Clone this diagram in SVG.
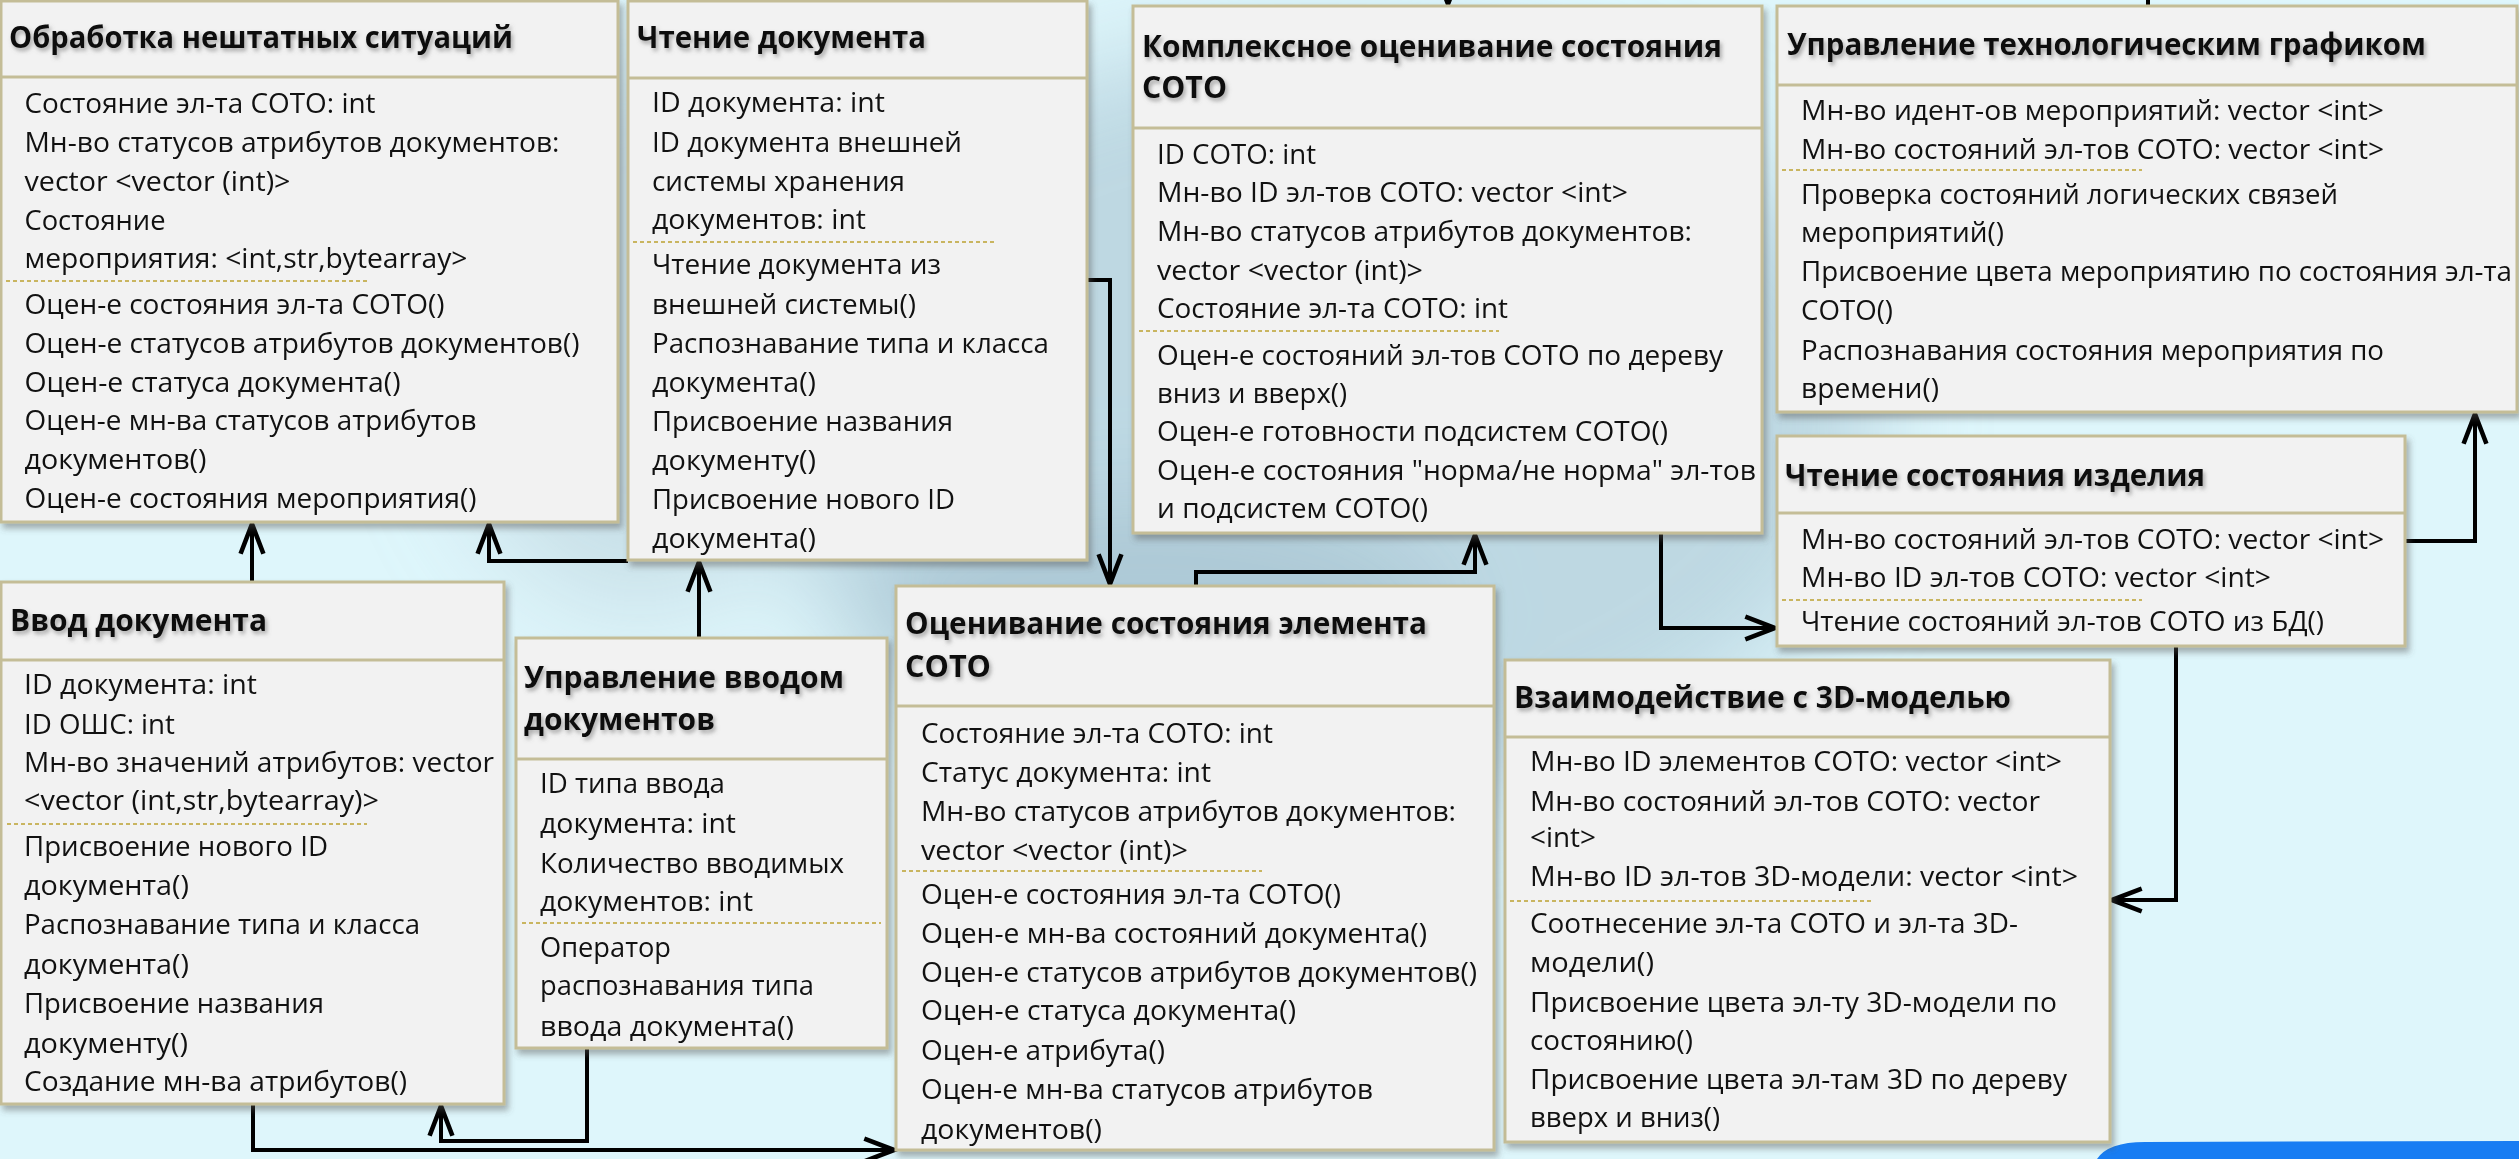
<svg xmlns="http://www.w3.org/2000/svg" width="2519" height="1159" viewBox="0 0 2519 1159">
<defs>
<style>
.box{fill:#f2f2f2;stroke:#c4bd97;stroke-width:3;filter:url(#shadow)}
.sep{stroke:#c4bd97;stroke-width:3}
.dot{stroke:#c9b560;stroke-width:2;stroke-dasharray:4 3}
.t{font-family:"Open Sans","Noto Sans","DejaVu Sans",sans-serif;font-weight:bold;font-size:31px;fill:#111;filter:url(#tshadow)}
.b{font-family:"Open Sans","Noto Sans","DejaVu Sans",sans-serif;font-size:27px;fill:#111}
.c{fill:none;stroke:#000;stroke-width:4;stroke-linejoin:miter}
.ca{fill:none;stroke:#000;stroke-width:4;marker-end:url(#arr)}
</style>
<filter id="shadow" x="-5%" y="-5%" width="115%" height="115%">
<feDropShadow dx="3" dy="5" stdDeviation="3" flood-color="#555" flood-opacity="0.45"/>
</filter>
<filter id="tshadow" x="-5%" y="-30%" width="115%" height="170%">
<feDropShadow dx="2" dy="3" stdDeviation="2" flood-color="#666" flood-opacity="0.55"/>
</filter>
<filter id="blur" x="-50%" y="-50%" width="200%" height="200%">
<feGaussianBlur stdDeviation="50"/>
</filter>
<marker id="arr" markerUnits="userSpaceOnUse" markerWidth="40" markerHeight="40" refX="0" refY="0" viewBox="-30 -15 35 30" orient="auto">
<path d="M-26,-10 L0,0 L-26,10" fill="none" stroke="#000" stroke-width="4"/>
</marker>
</defs>

<g id="background">
<rect x="0" y="0" width="2519" height="1159" fill="#def6fb"/>
<g filter="url(#blur)">
<ellipse cx="1320" cy="420" rx="560" ry="380" fill="#a9c4d2" opacity="0.6"/>
<ellipse cx="640" cy="330" rx="200" ry="280" fill="#b3cad6" opacity="0.5"/>
<ellipse cx="1150" cy="620" rx="300" ry="120" fill="#9fbccb" opacity="0.55"/>
</g>
<path d="M2097,1159 Q2108,1142 2145,1142 L2519,1141 L2519,1159 Z" fill="#187df3"/>
</g>

<g id="connectors">
<path class="ca" d="M252,582 L252,524"/>
<path class="ca" d="M628,561 L489,561 L489,524"/>
<path class="ca" d="M699,638 L699,562"/>
<path class="ca" d="M1087,280 L1110,280 L1110,584"/>
<path class="ca" d="M1196,586 L1196,572 L1475,572 L1475,535"/>
<path class="ca" d="M1661,533 L1661,628 L1775,628"/>
<path class="ca" d="M2405,541 L2475,541 L2475,414"/>
<path class="ca" d="M2176,646 L2176,900 L2112,900"/>
<path class="ca" d="M253,1104 L253,1150 L894,1150"/>
<path class="ca" d="M587,1048 L587,1141 L441,1141 L441,1106"/>
<path class="ca" d="M1448,-30 L1448,4"/>
<path class="c" d="M2148,0 L2148,6"/>
<path class="c" d="M309,0 L309,3"/>
<path class="c" d="M562,0 L562,3"/>
</g>

<g id="node-obrabotka">
<rect class="box" x="1" y="1" width="617" height="521"/>
<line class="sep" x1="1" y1="77" x2="618" y2="77"/>
<text class="t" x="9" y="48" textLength="504" lengthAdjust="spacingAndGlyphs">Обработка нештатных ситуаций</text>
<text class="b" x="24.5" y="113" textLength="351" lengthAdjust="spacingAndGlyphs">Состояние эл-та СОТО: int</text>
<text class="b" x="24.5" y="152" textLength="535" lengthAdjust="spacingAndGlyphs">Мн-во статусов атрибутов документов:</text>
<text class="b" x="24.5" y="191" textLength="266" lengthAdjust="spacingAndGlyphs">vector &lt;vector (int)&gt;</text>
<text class="b" x="24.5" y="230" textLength="141" lengthAdjust="spacingAndGlyphs">Состояние</text>
<text class="b" x="24.5" y="268" textLength="443" lengthAdjust="spacingAndGlyphs">мероприятия: &lt;int,str,bytearray&gt;</text>
<line class="dot" x1="6" y1="281" x2="367" y2="281"/>
<text class="b" x="24.5" y="314" textLength="420" lengthAdjust="spacingAndGlyphs">Оцен-е состояния эл-та СОТО()</text>
<text class="b" x="24.5" y="353" textLength="555" lengthAdjust="spacingAndGlyphs">Оцен-е статусов атрибутов документов()</text>
<text class="b" x="24.5" y="392" textLength="376" lengthAdjust="spacingAndGlyphs">Оцен-е статуса документа()</text>
<text class="b" x="24.5" y="430" textLength="452" lengthAdjust="spacingAndGlyphs">Оцен-е мн-ва статусов атрибутов</text>
<text class="b" x="24.5" y="469" textLength="182" lengthAdjust="spacingAndGlyphs">документов()</text>
<text class="b" x="24.5" y="508" textLength="452" lengthAdjust="spacingAndGlyphs">Оцен-е состояния мероприятия()</text>
</g>

<g id="node-chtenie-dok">
<rect class="box" x="628" y="1" width="459" height="559"/>
<line class="sep" x1="628" y1="78" x2="1087" y2="78"/>
<text class="t" x="637" y="48" textLength="289" lengthAdjust="spacingAndGlyphs">Чтение документа</text>
<text class="b" x="652" y="112" textLength="233" lengthAdjust="spacingAndGlyphs">ID документа: int</text>
<text class="b" x="652" y="152" textLength="310" lengthAdjust="spacingAndGlyphs">ID документа внешней</text>
<text class="b" x="652" y="191" textLength="253" lengthAdjust="spacingAndGlyphs">системы хранения</text>
<text class="b" x="652" y="229" textLength="214" lengthAdjust="spacingAndGlyphs">документов: int</text>
<line class="dot" x1="633" y1="242" x2="995" y2="242"/>
<text class="b" x="652" y="274" textLength="289" lengthAdjust="spacingAndGlyphs">Чтение документа из</text>
<text class="b" x="652" y="314" textLength="264" lengthAdjust="spacingAndGlyphs">внешней системы()</text>
<text class="b" x="652" y="353" textLength="397" lengthAdjust="spacingAndGlyphs">Распознавание типа и класса</text>
<text class="b" x="652" y="392" textLength="164" lengthAdjust="spacingAndGlyphs">документа()</text>
<text class="b" x="652" y="431" textLength="301" lengthAdjust="spacingAndGlyphs">Присвоение названия</text>
<text class="b" x="652" y="470" textLength="164" lengthAdjust="spacingAndGlyphs">документу()</text>
<text class="b" x="652" y="509" textLength="303" lengthAdjust="spacingAndGlyphs">Присвоение нового ID</text>
<text class="b" x="652" y="548" textLength="164" lengthAdjust="spacingAndGlyphs">документа()</text>
</g>

<g id="node-kompleksnoe">
<rect class="box" x="1133" y="6" width="629" height="527"/>
<line class="sep" x1="1133" y1="128" x2="1762" y2="128"/>
<text class="t" x="1142" y="57" textLength="580" lengthAdjust="spacingAndGlyphs">Комплексное оценивание состояния</text>
<text class="t" x="1142" y="98" textLength="85" lengthAdjust="spacingAndGlyphs">СОТО</text>
<text class="b" x="1157" y="164" textLength="159" lengthAdjust="spacingAndGlyphs">ID СОТО: int</text>
<text class="b" x="1157" y="202" textLength="471" lengthAdjust="spacingAndGlyphs">Мн-во ID эл-тов СОТО: vector &lt;int&gt;</text>
<text class="b" x="1157" y="241" textLength="535" lengthAdjust="spacingAndGlyphs">Мн-во статусов атрибутов документов:</text>
<text class="b" x="1157" y="280" textLength="266" lengthAdjust="spacingAndGlyphs">vector &lt;vector (int)&gt;</text>
<text class="b" x="1157" y="318" textLength="351" lengthAdjust="spacingAndGlyphs">Состояние эл-та СОТО: int</text>
<line class="dot" x1="1139" y1="331" x2="1499" y2="331"/>
<text class="b" x="1157" y="365" textLength="566" lengthAdjust="spacingAndGlyphs">Оцен-е состояний эл-тов СОТО по дереву</text>
<text class="b" x="1157" y="403" textLength="190" lengthAdjust="spacingAndGlyphs">вниз и вверх()</text>
<text class="b" x="1157" y="441" textLength="511" lengthAdjust="spacingAndGlyphs">Оцен-е готовности подсистем СОТО()</text>
<text class="b" x="1157" y="480" textLength="599" lengthAdjust="spacingAndGlyphs">Оцен-е состояния "норма/не норма" эл-тов</text>
<text class="b" x="1157" y="518" textLength="271" lengthAdjust="spacingAndGlyphs">и подсистем СОТО()</text>
</g>

<g id="node-upr-grafik">
<rect class="box" x="1777" y="6" width="740" height="406"/>
<line class="sep" x1="1777" y1="85" x2="2517" y2="85"/>
<text class="t" x="1787" y="55" textLength="639" lengthAdjust="spacingAndGlyphs">Управление технологическим графиком</text>
<text class="b" x="1801" y="120" textLength="583" lengthAdjust="spacingAndGlyphs">Мн-во идент-ов мероприятий: vector &lt;int&gt;</text>
<text class="b" x="1801" y="159" textLength="583" lengthAdjust="spacingAndGlyphs">Мн-во состояний эл-тов СОТО: vector &lt;int&gt;</text>
<line class="dot" x1="1782" y1="170" x2="2142" y2="170"/>
<text class="b" x="1801" y="204" textLength="537" lengthAdjust="spacingAndGlyphs">Проверка состояний логических связей</text>
<text class="b" x="1801" y="242" textLength="203" lengthAdjust="spacingAndGlyphs">мероприятий()</text>
<text class="b" x="1801" y="281" textLength="711" lengthAdjust="spacingAndGlyphs">Присвоение цвета мероприятию по состояния эл-та</text>
<text class="b" x="1801" y="320" textLength="92" lengthAdjust="spacingAndGlyphs">СОТО()</text>
<text class="b" x="1801" y="360" textLength="583" lengthAdjust="spacingAndGlyphs">Распознавания состояния мероприятия по</text>
<text class="b" x="1801" y="398" textLength="138" lengthAdjust="spacingAndGlyphs">времени()</text>
</g>

<g id="node-chtenie-sost">
<rect class="box" x="1777" y="436" width="628" height="210"/>
<line class="sep" x1="1777" y1="513" x2="2405" y2="513"/>
<text class="t" x="1785" y="486" textLength="420" lengthAdjust="spacingAndGlyphs">Чтение состояния изделия</text>
<text class="b" x="1801" y="549" textLength="583" lengthAdjust="spacingAndGlyphs">Мн-во состояний эл-тов СОТО: vector &lt;int&gt;</text>
<text class="b" x="1801" y="587" textLength="470" lengthAdjust="spacingAndGlyphs">Мн-во ID эл-тов СОТО: vector &lt;int&gt;</text>
<line class="dot" x1="1782" y1="600" x2="2142" y2="600"/>
<text class="b" x="1801" y="631" textLength="523" lengthAdjust="spacingAndGlyphs">Чтение состояний эл-тов СОТО из БД()</text>
</g>

<g id="node-3d">
<rect class="box" x="1505" y="660" width="605" height="482"/>
<line class="sep" x1="1505" y1="737" x2="2110" y2="737"/>
<text class="t" x="1514" y="708" textLength="497" lengthAdjust="spacingAndGlyphs">Взаимодействие с 3D-моделью</text>
<text class="b" x="1530" y="771" textLength="532" lengthAdjust="spacingAndGlyphs">Мн-во ID элементов СОТО: vector &lt;int&gt;</text>
<text class="b" x="1530" y="811" textLength="510" lengthAdjust="spacingAndGlyphs">Мн-во состояний эл-тов СОТО: vector</text>
<text class="b" x="1530" y="847" textLength="66" lengthAdjust="spacingAndGlyphs">&lt;int&gt;</text>
<text class="b" x="1530" y="886" textLength="548" lengthAdjust="spacingAndGlyphs">Мн-во ID эл-тов 3D-модели: vector &lt;int&gt;</text>
<line class="dot" x1="1510" y1="901" x2="1871" y2="901"/>
<text class="b" x="1530" y="933" textLength="488" lengthAdjust="spacingAndGlyphs">Соотнесение эл-та СОТО и эл-та 3D-</text>
<text class="b" x="1530" y="972" textLength="124" lengthAdjust="spacingAndGlyphs">модели()</text>
<text class="b" x="1530" y="1012" textLength="527" lengthAdjust="spacingAndGlyphs">Присвоение цвета эл-ту 3D-модели по</text>
<text class="b" x="1530" y="1050" textLength="163" lengthAdjust="spacingAndGlyphs">состоянию()</text>
<text class="b" x="1530" y="1089" textLength="537" lengthAdjust="spacingAndGlyphs">Присвоение цвета эл-там 3D по дереву</text>
<text class="b" x="1530" y="1127" textLength="190" lengthAdjust="spacingAndGlyphs">вверх и вниз()</text>
</g>

<g id="node-vvod">
<rect class="box" x="1" y="582" width="503" height="522"/>
<line class="sep" x1="1" y1="660" x2="504" y2="660"/>
<text class="t" x="10" y="631" textLength="257" lengthAdjust="spacingAndGlyphs">Ввод документа</text>
<text class="b" x="24" y="694" textLength="233" lengthAdjust="spacingAndGlyphs">ID документа: int</text>
<text class="b" x="24" y="734" textLength="151" lengthAdjust="spacingAndGlyphs">ID ОШС: int</text>
<text class="b" x="24" y="772" textLength="470" lengthAdjust="spacingAndGlyphs">Мн-во значений атрибутов: vector</text>
<text class="b" x="24" y="810" textLength="355" lengthAdjust="spacingAndGlyphs">&lt;vector (int,str,bytearray)&gt;</text>
<line class="dot" x1="7" y1="824" x2="367" y2="824"/>
<text class="b" x="24" y="856" textLength="304" lengthAdjust="spacingAndGlyphs">Присвоение нового ID</text>
<text class="b" x="24" y="895" textLength="165" lengthAdjust="spacingAndGlyphs">документа()</text>
<text class="b" x="24" y="934" textLength="396" lengthAdjust="spacingAndGlyphs">Распознавание типа и класса</text>
<text class="b" x="24" y="974" textLength="165" lengthAdjust="spacingAndGlyphs">документа()</text>
<text class="b" x="24" y="1013" textLength="300" lengthAdjust="spacingAndGlyphs">Присвоение названия</text>
<text class="b" x="24" y="1053" textLength="164" lengthAdjust="spacingAndGlyphs">документу()</text>
<text class="b" x="24" y="1091" textLength="383" lengthAdjust="spacingAndGlyphs">Создание мн-ва атрибутов()</text>
</g>

<g id="node-upr-vvod">
<rect class="box" x="516" y="638" width="371" height="410"/>
<line class="sep" x1="516" y1="759" x2="887" y2="759"/>
<text class="t" x="524" y="688" textLength="320" lengthAdjust="spacingAndGlyphs">Управление вводом</text>
<text class="t" x="524" y="730" textLength="191" lengthAdjust="spacingAndGlyphs">документов</text>
<text class="b" x="540" y="793" textLength="185" lengthAdjust="spacingAndGlyphs">ID типа ввода</text>
<text class="b" x="540" y="833" textLength="196" lengthAdjust="spacingAndGlyphs">документа: int</text>
<text class="b" x="540" y="873" textLength="304" lengthAdjust="spacingAndGlyphs">Количество вводимых</text>
<text class="b" x="540" y="911" textLength="213" lengthAdjust="spacingAndGlyphs">документов: int</text>
<line class="dot" x1="522" y1="923" x2="881" y2="923"/>
<text class="b" x="540" y="957" textLength="131" lengthAdjust="spacingAndGlyphs">Оператор</text>
<text class="b" x="540" y="995" textLength="274" lengthAdjust="spacingAndGlyphs">распознавания типа</text>
<text class="b" x="540" y="1036" textLength="254" lengthAdjust="spacingAndGlyphs">ввода документа()</text>
</g>

<g id="node-ocenivanie">
<rect class="box" x="896" y="586" width="598" height="564"/>
<line class="sep" x1="896" y1="706" x2="1494" y2="706"/>
<text class="t" x="905" y="634" textLength="522" lengthAdjust="spacingAndGlyphs">Оценивание состояния элемента</text>
<text class="t" x="905" y="677" textLength="86" lengthAdjust="spacingAndGlyphs">СОТО</text>
<text class="b" x="921" y="743" textLength="352" lengthAdjust="spacingAndGlyphs">Состояние эл-та СОТО: int</text>
<text class="b" x="921" y="782" textLength="290" lengthAdjust="spacingAndGlyphs">Статус документа: int</text>
<text class="b" x="921" y="821" textLength="535" lengthAdjust="spacingAndGlyphs">Мн-во статусов атрибутов документов:</text>
<text class="b" x="921" y="860" textLength="267" lengthAdjust="spacingAndGlyphs">vector &lt;vector (int)&gt;</text>
<line class="dot" x1="902" y1="871" x2="1262" y2="871"/>
<text class="b" x="921" y="904" textLength="420" lengthAdjust="spacingAndGlyphs">Оцен-е состояния эл-та СОТО()</text>
<text class="b" x="921" y="943" textLength="506" lengthAdjust="spacingAndGlyphs">Оцен-е мн-ва состояний документа()</text>
<text class="b" x="921" y="982" textLength="556" lengthAdjust="spacingAndGlyphs">Оцен-е статусов атрибутов документов()</text>
<text class="b" x="921" y="1020" textLength="375" lengthAdjust="spacingAndGlyphs">Оцен-е статуса документа()</text>
<text class="b" x="921" y="1060" textLength="244" lengthAdjust="spacingAndGlyphs">Оцен-е атрибута()</text>
<text class="b" x="921" y="1099" textLength="452" lengthAdjust="spacingAndGlyphs">Оцен-е мн-ва статусов атрибутов</text>
<text class="b" x="921" y="1139" textLength="181" lengthAdjust="spacingAndGlyphs">документов()</text>
</g>
</svg>
